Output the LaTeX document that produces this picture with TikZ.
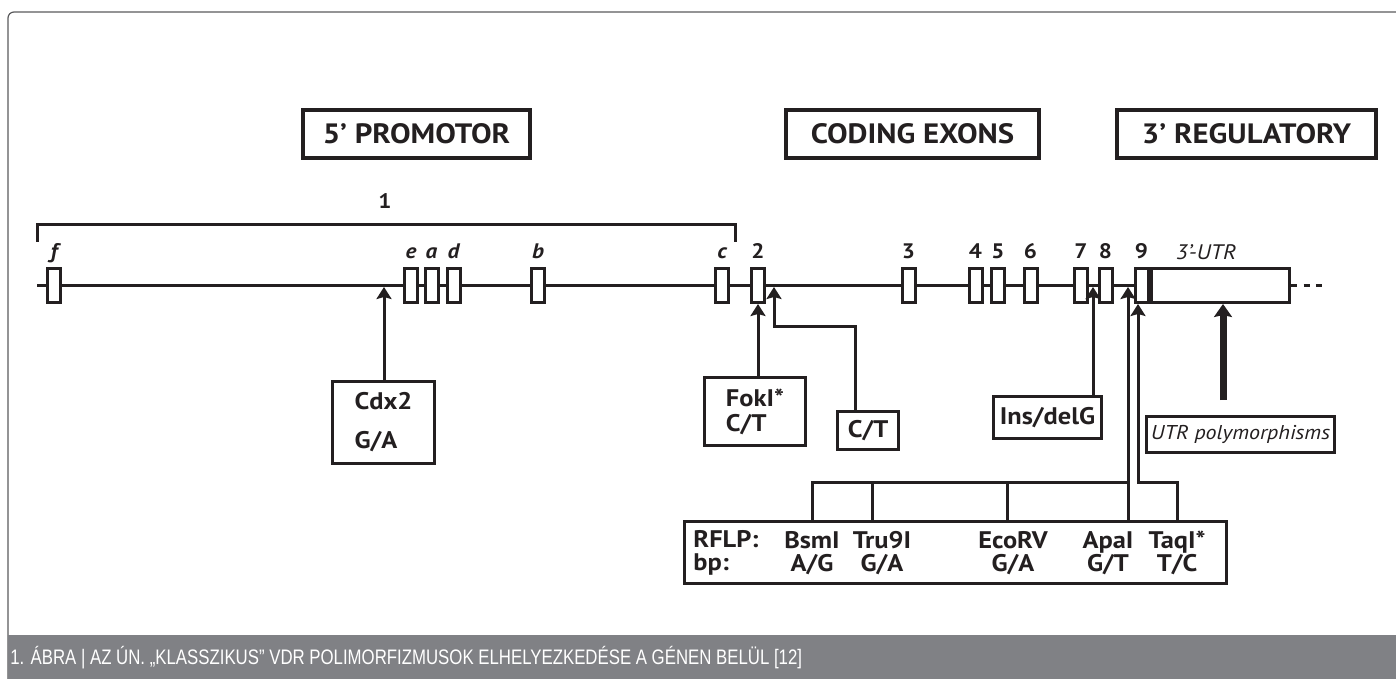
\documentclass[tikz,border=0pt]{standalone}
\usepackage{fontspec}
\setmainfont[FakeStretch=1.1]{PT Sans}
\newfontfamily\capfont[FakeStretch=0.8]{Liberation Sans}
\usepackage{xcolor}
\usetikzlibrary{arrows.meta,positioning,calc}
\definecolor{inkc}{RGB}{35,31,32}
\definecolor{bandc}{RGB}{128,129,133}
\definecolor{framec}{RGB}{90,90,92}

\begin{document}
\begin{tikzpicture}[
    x=0.5pt, y=-0.5pt,
    >={Stealth[length=6pt,width=7.5pt,inset=1pt]},
    hdr/.style={
        draw=inkc,
        line width=2pt,
        minimum height=24pt,
        inner sep=0pt,
        text=inkc,
        font=\bfseries\fontsize{14}{16}\selectfont
    },
    exon/.style={
        draw=inkc,
        line width=1.5pt,
        fill=white,
        minimum width=6.5pt,
        minimum height=17pt,
        inner sep=0pt
    },
    ilbl/.style={anchor=base, inner sep=0pt, text=inkc, font=\bfseries\itshape\fontsize{10.5}{12}\selectfont},
    nlbl/.style={anchor=base, inner sep=0pt, text=inkc, font=\bfseries\fontsize{10.5}{12}\selectfont},
    snp/.style={
        draw=inkc,
        line width=1.5pt,
        inner sep=0pt,
        align=left,
        text=inkc,
        font=\bfseries\fontsize{12}{12.5}\selectfont
    },
    rtxt/.style={inner sep=0pt, align=center, text=inkc, font=\bfseries\fontsize{12}{11.5}\selectfont},
    capt/.style={inner sep=0pt, text=white, font=\capfont\fontsize{10.5}{12}\selectfont},
    gene/.style={draw=inkc, line width=1.5pt},
    arr/.style={->, draw=inkc, line width=1.5pt},
    fatarr/.style={-{Stealth[length=6.5pt,width=9pt,inset=1pt]}, draw=inkc, line width=3.5pt}
]
\useasboundingbox (0,0) rectangle (1396,679);

% frame and caption band
\draw[framec, line width=0.6pt, rounded corners=3pt] (8,12) rectangle (1420,700);
\fill[bandc] (8.3,635) rectangle (1420,700);
\node[capt, anchor=base west] (cap) at (10,664)
{1. ÁBRA | AZ ÚN. „KLASSZIKUS” VDR POLIMORFIZMUSOK ELHELYEZKEDÉSE A GÉNEN BELÜL [12]};

% region headers
\node[hdr, minimum width=113.5pt] (prom) at (416.5,134) {5’ PROMOTOR};
\node[hdr, minimum width=126.5pt] (cod) at (912.5,134) {CODING EXONS};
\node[hdr, minimum width=129.5pt] (reg) at (1246.5,134) {3’ REGULATORY};

% exon 1 bracket
\coordinate (br-l) at (37,242);
\coordinate (br-r) at (735,242);
\coordinate (br-top) at (385,225);
\draw[gene] (br-l) |- (br-top) -| (br-r);
\node[nlbl] (l1) at ([yshift=8pt]br-top) {1};

% gene backbone
\coordinate (g0) at (37,285.5);
\coordinate (g1) at (1288,285.5);
\coordinate (gtail) at (1323,285.5);
\draw[gene] (g0) -- (g1);

% exons
\node[exon] (xf) at (54,285.5) {};
\node[exon] (xe) at (411,285.5) {};
\node[exon] (xa) at (431.5,285.5) {};
\node[exon] (xd) at (453.5,285.5) {};
\node[exon] (xb) at (538,285.5) {};
\node[exon] (xc) at (722,285.5) {};
\node[exon] (x2) at (758,285.5) {};
\node[exon] (x3) at (908.5,285.5) {};
\node[exon] (x4) at (975.5,285.5) {};
\node[exon] (x5) at (998,285.5) {};
\node[exon] (x6) at (1030.5,285.5) {};
\node[exon] (x7) at (1081,285.5) {};
\node[exon] (x8) at (1105.5,285.5) {};
\node[exon] (x9) at (1141.5,285.5) {};
\node[exon, minimum width=69.3pt, anchor=west] (utr) at (x9.east) {};
\draw[gene, dash pattern=on 3pt off 3.2pt] (utr.east) -- (gtail);

% exon labels
\node[ilbl] (lf) at ([yshift=4.5pt]xf.north) {f};
\node[ilbl] (le) at ([yshift=4.5pt]xe.north) {e};
\node[ilbl] (la) at ([yshift=4.5pt]xa.north) {a};
\node[ilbl] (ld) at ([yshift=4.5pt]xd.north) {d};
\node[ilbl] (lb) at ([yshift=4.5pt]xb.north) {b};
\node[ilbl] (lc) at ([yshift=4.5pt]xc.north) {c};
\node[nlbl] (l2) at ([yshift=4.5pt]x2.north) {2};
\node[nlbl] (l3) at ([yshift=4.5pt]x3.north) {3};
\node[nlbl] (l4) at ([yshift=4.5pt]x4.north) {4};
\node[nlbl] (l5) at ([yshift=4.5pt]x5.north) {5};
\node[nlbl] (l6) at ([yshift=4.5pt]x6.north) {6};
\node[nlbl] (l7) at ([yshift=4.5pt]x7.north) {7};
\node[nlbl] (l8) at ([yshift=4.5pt]x8.north) {8};
\node[nlbl] (l9) at ([yshift=4.5pt]x9.north) {9};
\node[ilbl, font=\itshape\fontsize{10.5}{12}\selectfont] (lutr) at (1206,259.5) {3’-UTR};

% polymorphism boxes
\node[snp, minimum width=51pt, minimum height=41pt, font=\bfseries\fontsize{12}{19.5}\selectfont] (cdx) at (383.5,422) {Cdx2\\G/A};
\node[snp, minimum width=50.5pt, minimum height=34pt] (fok) at (755,411.5) {FokI*\\C/T};
\node[snp, minimum width=30.5pt, minimum height=19pt] (ct) at (868,430.5) {C/T};
\node[snp, minimum width=54pt, minimum height=21pt] (ins) at (1047.5,417.5) {Ins/delG};
\node[snp, minimum width=94pt, minimum height=18pt, font=\itshape\fontsize{10}{12}\selectfont] (utrp) at (1240.5,434.5) {UTR polymorphisms};

% RFLP box
\node[snp, minimum width=271pt, minimum height=31pt] (rflp) at (955.5,552.5) {};
\node[rtxt, align=left, anchor=west] (rbp) at (693,553) {RFLP:\\bp:};
\node[rtxt] (bsm) at (812,553) {BsmI\\A/G};
\node[rtxt] (tru) at (882,553) {Tru9I\\G/A};
\node[rtxt] (eco) at (1013,553) {EcoRV\\G/A};
\node[rtxt] (apa) at (1108,553) {ApaI\\G/T};
\node[rtxt] (taq) at (1177,553) {TaqI*\\T/C};

% sites on the gene
\coordinate (s-cdx) at (384,287);
\coordinate (s-ct) at (774,287);
\coordinate (ct-turn) at (855,326);
\coordinate (s-ins) at (1093,287);
\coordinate (s-apa) at (1128,287);
\coordinate (taq-turn) at (1138,482);
\coordinate (utr-tail) at (1223,400);
\coordinate (b-bsm) at (812,482);
\coordinate (b-tru) at (872,482);
\coordinate (b-eco) at (1007,482);

% arrows
\draw[arr] (cdx.north -| s-cdx) -- (s-cdx);
\draw[arr] (fok.north -| x2.south) -- (x2.south);
\draw[arr] (ct.north -| ct-turn) -- (ct-turn) -| (s-ct);
\draw[arr] (ins.north -| s-ins) -- (s-ins);
\draw[fatarr] (utr-tail) -- (utr-tail |- utr.south);
\draw[arr] (rflp.north -| s-apa) -- (s-apa);
\draw[arr] (rflp.north -| taq) |- (taq-turn) -- (taq-turn |- x9.south);

% RFLP tree
\draw[gene] (rflp.north -| b-bsm) -- (b-bsm) -- (b-bsm -| s-apa);
\draw[gene] (rflp.north -| b-tru) -- (b-tru);
\draw[gene] (rflp.north -| b-eco) -- (b-eco);

\end{tikzpicture}
\end{document}
